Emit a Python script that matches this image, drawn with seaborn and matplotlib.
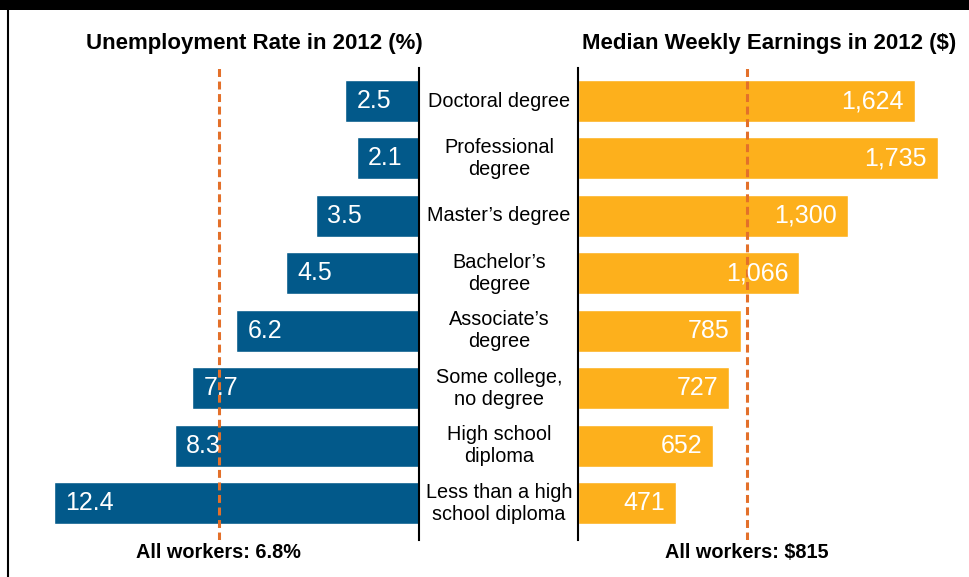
import matplotlib
matplotlib.use("Agg")
import matplotlib.pyplot as plt
import matplotlib.transforms as mtransforms
from matplotlib.patches import Rectangle
from matplotlib.lines import Line2D
import seaborn as sns
import pandas as pd

categories = ["Doctoral degree", "Professional\ndegree", "Master\u2019s degree",
              "Bachelor\u2019s\ndegree", "Associate\u2019s\ndegree",
              "Some college,\nno degree", "High school\ndiploma",
              "Less than a high\nschool diploma"]
unemployment = [2.5, 2.1, 3.5, 4.5, 6.2, 7.7, 8.3, 12.4]
earnings = [1624, 1735, 1300, 1066, 785, 727, 652, 471]
all_unemp = 6.8
all_earn = 815
title_left = "Unemployment Rate in 2012 (%)"
title_right = "Median Weekly Earnings in 2012 ($)"

BLUE = "#02598A"
ORANGE = "#FDB01C"
DASH = "#E3702A"

sns.set_style("white")
plt.rcParams["font.family"] = ["Liberation Sans", "DejaVu Sans"]
plt.rcParams["text.color"] = "black"
COND = ["Liberation Sans Narrow", "Liberation Sans", "DejaVu Sans"]

W, H = 969, 577
fig = plt.figure(figsize=(W / 100, H / 100), dpi=100)

def px_rect(x0, y_top, x1, y_bot):
    return [x0 / W, 1 - y_bot / H, (x1 - x0) / W, (y_bot - y_top) / H]

ax1 = fig.add_axes(px_rect(10, 68, 419, 540))
ax2 = fig.add_axes(px_rect(578, 68, 969, 540))

df = pd.DataFrame({"cat": categories, "unemp": unemployment, "earn": earnings})

sns.barplot(data=df, x="unemp", y="cat", ax=ax1, color=BLUE, width=0.73,
            orient="h", saturation=1)
sns.barplot(data=df, x="earn", y="cat", ax=ax2, color=ORANGE, width=0.73,
            orient="h", saturation=1)

ax1.set_xlim(13.89, 0)
ax2.set_xlim(0, 1884)
for ax in (ax1, ax2):
    ax.set_ylim(7.644, -0.575)
    ax.set_xticks([])
    ax.set_yticks([])
    ax.set_xlabel("")
    ax.set_ylabel("")
    ax.patch.set_alpha(0)
    for s in ax.spines.values():
        s.set_visible(False)
ax1.spines["right"].set_visible(True)
ax1.spines["right"].set_color("black")
ax1.spines["right"].set_linewidth(1.5)
ax2.spines["left"].set_visible(True)
ax2.spines["left"].set_color("black")
ax2.spines["left"].set_linewidth(1.5)

# dashed reference lines
ax1.axvline(all_unemp, color=DASH, lw=2.2, dashes=(2.6, 1.5), zorder=5)
ax2.axvline(all_earn, color=DASH, lw=2.2, dashes=(2.6, 1.5), zorder=5)

# value labels
for i, v in enumerate(unemployment):
    ax1.annotate(f"{v}", xy=(v, i), xytext=(11, 0), textcoords="offset pixels",
                 ha="left", va="center", color="white", fontsize=18, zorder=6)
for i, v in enumerate(earnings):
    ax2.annotate(f"{v:,}", xy=(v, i), xytext=(-11, 0), textcoords="offset pixels",
                 ha="right", va="center", color="white", fontsize=18, zorder=6)

# category labels centered between axes
tr = mtransforms.blended_transform_factory(fig.transFigure, ax1.transData)
for i, c in enumerate(categories):
    fig.text(499 / W, i, c, transform=tr, ha="center", va="center",
             fontsize=14.3, linespacing=1.2, color="black")

# titles
fig.text(254.5 / W, 1 - 44 / H, title_left, ha="center", va="center",
         fontsize=16, fontweight="bold", family=COND, color="black")
fig.text(769.5 / W, 1 - 44 / H, title_right, ha="center", va="center",
         fontsize=16, fontweight="bold", family=COND, color="black")

# bottom labels
trb1 = mtransforms.blended_transform_factory(ax1.transData, fig.transFigure)
trb2 = mtransforms.blended_transform_factory(ax2.transData, fig.transFigure)
ax1.text(all_unemp, 1 - 552 / H, f"All workers: {all_unemp}%", transform=trb1,
         ha="center", va="center", fontsize=14.3, fontweight="bold", family=COND,
         color="black", clip_on=False)
ax2.text(all_earn, 1 - 552 / H, f"All workers: ${all_earn}", transform=trb2,
         ha="center", va="center", fontsize=14.3, fontweight="bold", family=COND,
         color="black", clip_on=False)

# frame decorations: top black band and left border
fig.patches.append(Rectangle((0, 1 - 10 / H), 1, 10 / H, transform=fig.transFigure,
                             facecolor="black", edgecolor="none", zorder=10))
fig.lines.append(Line2D([8 / W, 8 / W], [0, 1 - 10 / H], transform=fig.transFigure,
                        color="black", lw=1.5, zorder=10))

fig.savefig("out.png", dpi=100)
